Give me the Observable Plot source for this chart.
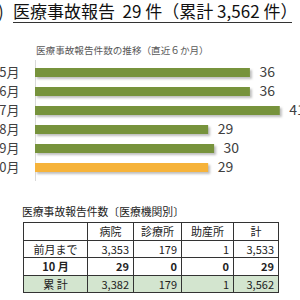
<!DOCTYPE html>
<html><head><meta charset="utf-8">
<script src="https://cdn.jsdelivr.net/npm/d3@7"></script>
<script src="https://cdn.jsdelivr.net/npm/@observablehq/plot@0.6"></script>
<style>
body{margin:0;background:#fff;font-family:"Noto Sans CJK JP","Noto Sans",sans-serif;}
#wrap{position:relative;width:300px;height:300px;overflow:hidden;background:#fff;}
#paren{position:absolute;left:-2px;top:0px;font-size:17px;line-height:22px;color:#222;}
#title{position:absolute;left:13px;top:0px;width:279px;font-size:17px;line-height:22px;color:#111;border-bottom:1px solid #333;white-space:pre;}
#sub{position:absolute;left:36px;top:43px;font-size:9.6px;line-height:14px;color:#595959;white-space:nowrap;}
#chart{position:absolute;left:0;top:45px;}
#ttitle{position:absolute;left:22px;top:204px;font-size:10.8px;line-height:15px;color:#222;white-space:nowrap;}
table{position:absolute;left:23px;top:222px;border-collapse:collapse;font-size:11px;color:#222;table-layout:fixed;}
td{border:1px solid #333;height:16.5px;padding:0 4px 0 0;line-height:16px;text-align:right;}
td.c{text-align:center;padding:0;}
tr.b td{font-weight:bold;}
tr.g td{background:#D3E5CF;}
</style></head><body>
<div id="wrap">
 <div id="paren">)</div>
 <div id="title">医療事故報告  29 件（累計 3,562 件）</div>
 <div id="sub">医療事故報告件数の推移（直近６か月）</div>
 <div id="chart"></div>
 <div id="ttitle">医療事故報告件数〔医療機関別〕</div>
 <table id="tbl"></table>
</div>
<script>
const months = ["5月","6月","7月","8月","9月","10月"];
const counts = [36,36,41,29,30,29];
const highlightMonth = "10月";

const tableHeader = ["", "病院", "診療所", "助産所", "計"];
const rowLabels = ["前月まで", "10 月", "累 計"];
const hospital = ["3,353", "29", "3,382"];
const clinic = ["179", "0", "179"];
const midwife = ["1", "0", "1"];
const total = ["3,533", "29", "3,562"];

const data = months.map((m, i) => ({month: m, count: counts[i]}));
const font = '"Noto Sans CJK JP","Noto Sans",sans-serif';

const chart = Plot.plot({
  width: 300,
  height: 141,
  marginTop: 15,
  marginBottom: 5,
  marginLeft: 35,
  marginRight: 0,
  style: {background: "transparent", fontFamily: font},
  x: {domain: [0, 50], range: [35, 35 + 5.97 * 50], axis: null},
  y: {domain: months, paddingInner: 0.52, paddingOuter: 0.29, axis: null},
  marks: [
    Plot.ruleX([0], {stroke: "#d9d9d9"}),
    Plot.barX(data, {x: "count", y: "month", fill: "#6e6e6e", fillOpacity: 0.45, dx: 2, dy: 2}),
    Plot.barX(data.filter(d => d.month !== highlightMonth), {x: "count", y: "month", fill: "#77933C"}),
    Plot.barX(data.filter(d => d.month === highlightMonth), {x: "count", y: "month", fill: "#F6B33A"}),
    Plot.text(data, {x: "count", y: "month", text: d => String(d.count), textAnchor: "start", dx: 9, fontSize: 14, fill: "#404040"}),
    Plot.text(data, {y: "month", text: "month", frameAnchor: "left", textAnchor: "end", dx: -16, fontSize: 13, fill: "#404040"})
  ]
});
document.getElementById("chart").appendChild(chart);
const shadow = chart.querySelector("g[aria-label='bar']");
if (shadow) shadow.style.filter = "blur(0.8px)";

// table
const widths = [64, 46, 48, 52, 45];
const tbl = d3.select("#tbl");
const cg = tbl.append("colgroup");
widths.forEach(w => cg.append("col").style("width", w + "px"));
const hr = tbl.append("tr");
tableHeader.forEach(h => hr.append("td").attr("class", "c").text(h));
const rowClasses = ["", "b", "g"];
rowLabels.forEach((lab, i) => {
  const tr = tbl.append("tr").attr("class", rowClasses[i]);
  tr.append("td").attr("class", "c").text(lab);
  [hospital[i], clinic[i], midwife[i], total[i]].forEach(v => tr.append("td").text(v));
});
</script>
</body></html>
